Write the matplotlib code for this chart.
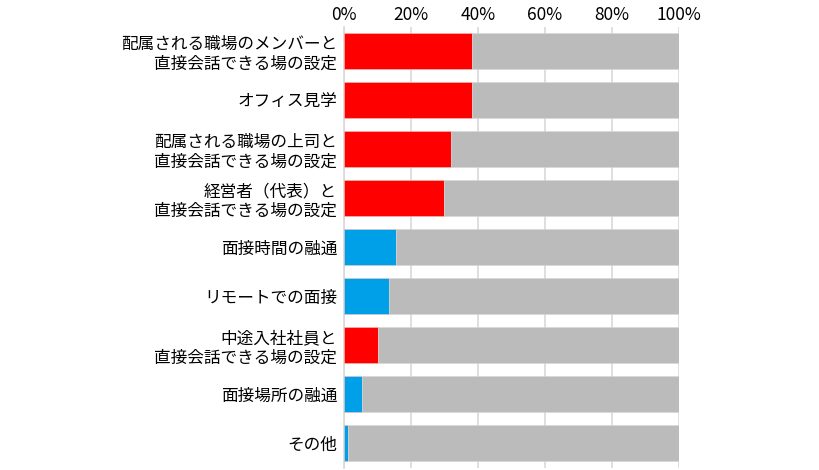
import numpy as np
import matplotlib
matplotlib.use("Agg")
import matplotlib.pyplot as plt
from matplotlib.ticker import PercentFormatter

plt.rcParams['font.family'] = ['Noto Sans CJK JP', 'DejaVu Sans']

categories = [
    "配属される職場のメンバーと\n直接会話できる場の設定",
    "オフィス見学",
    "配属される職場の上司と\n直接会話できる場の設定",
    "経営者（代表）と\n直接会話できる場の設定",
    "面接時間の融通",
    "リモートでの面接",
    "中途入社社員と\n直接会話できる場の設定",
    "面接場所の融通",
    "その他",
]
values = [38.3, 38.3, 31.9, 29.8, 15.6, 13.4, 10.1, 5.5, 1.1]
highlight = [True, True, True, True, False, False, True, False, False]

red = "#FF0000"
blue = "#00A0E9"
gray = "#BBBBBB"

vals = np.array(values)
rest = 100 - vals
colors = [red if h else blue for h in highlight]
y = np.arange(len(categories))

fig = plt.figure(figsize=(8.2, 4.7), dpi=100)
ax = fig.add_axes([344 / 820, 2.5 / 470, 335 / 820, 441 / 470])

ax.barh(y, vals, height=0.72, color=colors, edgecolor="#f4c0c0", linewidth=0.4, zorder=3)
ax.barh(y, rest, left=vals, height=0.72, color=gray, edgecolor="#d8d8d8", linewidth=0.4, zorder=3)

ax.set_xlim(0, 100)
ax.set_ylim(len(categories) - 0.5, -0.5)
ax.set_yticks(y)
ax.set_yticklabels(categories, fontsize=12, linespacing=1.2)
ax.set_xticks(np.arange(0, 101, 20))
ax.xaxis.set_major_formatter(PercentFormatter(decimals=0))
ax.xaxis.tick_top()
ax.tick_params(axis='x', length=0, pad=2, labelsize=12.5)
ax.tick_params(axis='y', length=0, pad=5)
ax.grid(axis='x', color="#d9d9d9", linewidth=1.2, zorder=0)
for s in ["top", "right", "bottom"]:
    ax.spines[s].set_visible(False)
ax.spines["left"].set_color("#d9d9d9")
ax.spines["left"].set_linewidth(1.2)

fig.savefig("out.png", dpi=100)
